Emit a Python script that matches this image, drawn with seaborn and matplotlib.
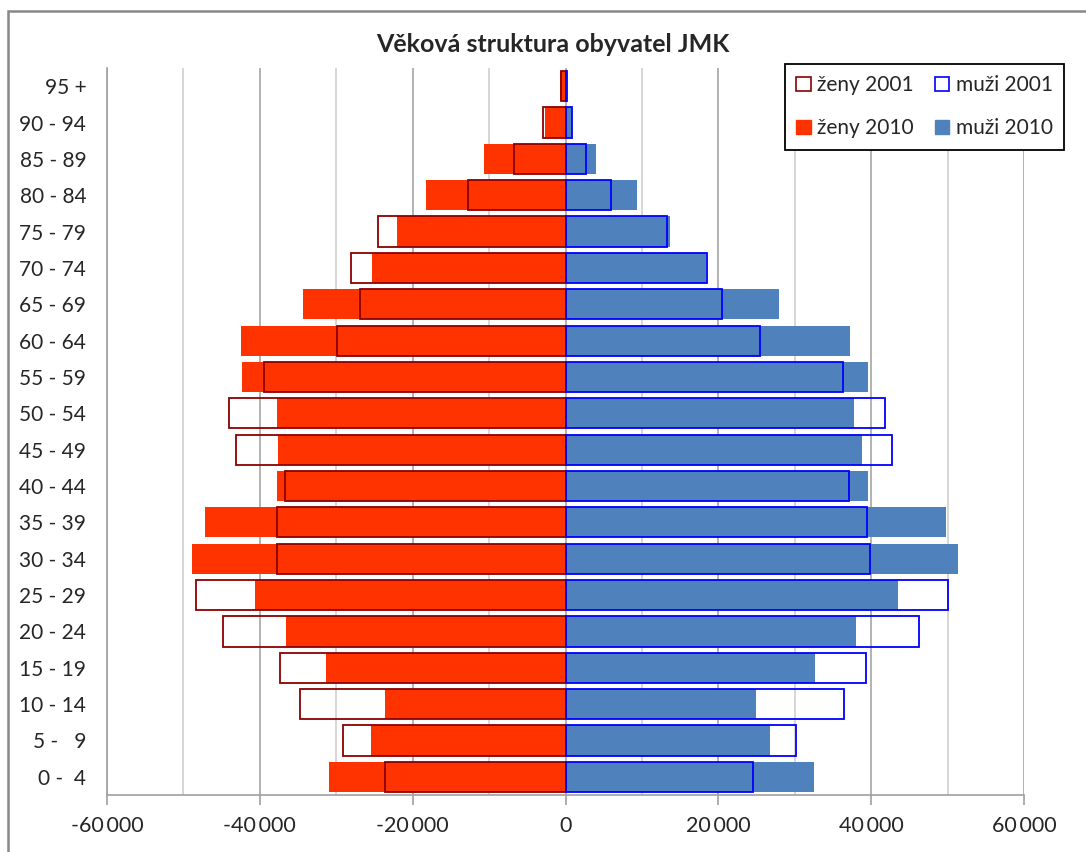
import numpy as np
import matplotlib
matplotlib.use("Agg")
import matplotlib.pyplot as plt
import matplotlib.patches as mpatches
import seaborn as sns

# age groups, top of the pyramid first
ages = ["95 +", "90 - 94", "85 - 89", "80 - 84", "75 - 79", "70 - 74",
        "65 - 69", "60 - 64", "55 - 59", "50 - 54", "45 - 49", "40 - 44",
        "35 - 39", "30 - 34", "25 - 29", "20 - 24", "15 - 19", "10 - 14",
        "5 -   9", "0 -  4"]

zeny_2001 = [550, 2900, 6800, 12800, 24500, 28100, 26900, 29900, 39400, 44100,
             43100, 36700, 37800, 37800, 48300, 44800, 37400, 34800, 29100, 23600]
zeny_2010 = [750, 2650, 10700, 18300, 22000, 25300, 34300, 42500, 42300, 37700,
             37600, 37800, 47200, 48900, 40600, 36600, 31400, 23600, 25500, 31000]
muzi_2001 = [200, 830, 2700, 6000, 13300, 18500, 20500, 25500, 36300, 41800,
             42700, 37100, 39400, 39900, 50000, 46300, 39300, 36400, 30200, 24600]
muzi_2010 = [250, 850, 4000, 9300, 13700, 18400, 27900, 37200, 39600, 37700,
             38800, 39600, 49800, 51400, 43500, 38000, 32700, 24900, 26700, 32500]

x_ticks = [-60000, -40000, -20000, 0, 20000, 40000, 60000]
legend_labels = ["ženy 2001", "ženy 2010", "muži 2001", "muži 2010"]

RED = "#FF3300"
BLUE = "#4F81BD"
DARK_RED = "#8B0000"
LINE_BLUE = "#0000FF"

sns.set_style("white")
plt.rcParams["font.family"] = ["Lato", "DejaVu Sans"]

fig = plt.figure(figsize=(10.86, 8.52), dpi=100)
ax = fig.add_axes([107 / 1086, 1 - 795 / 852, (1024 - 107) / 1086, (795 - 68) / 852])

bw = 0.83
sns.barplot(x=-np.array(zeny_2010), y=ages, orient="h", color=RED, width=bw,
            saturation=1, linewidth=0, errorbar=None, ax=ax)
sns.barplot(x=np.array(muzi_2010), y=ages, orient="h", color=BLUE, width=bw,
            saturation=1, linewidth=0, errorbar=None, ax=ax)
sns.barplot(x=-np.array(zeny_2001), y=ages, orient="h", color=DARK_RED, width=bw,
            saturation=1, fill=False, linewidth=1.3, errorbar=None, ax=ax)
sns.barplot(x=np.array(muzi_2001), y=ages, orient="h", color=LINE_BLUE, width=bw,
            saturation=1, fill=False, linewidth=1.3, errorbar=None, ax=ax)

ax.set_xlim(-60000, 60000)
ax.set_ylim(len(ages) - 0.5, -0.5)
ax.set_xticks(x_ticks)
ax.set_xticks(np.arange(-50000, 60001, 20000), minor=True)
ax.xaxis.set_major_formatter(
    plt.FuncFormatter(lambda v, p: f"{int(v):,}".replace(",", "\u2009")))
ax.set_axisbelow(True)
ax.grid(axis="x", which="major", color="#A6A6A6", linewidth=1.2)
ax.grid(axis="x", which="minor", color="#D0D0D0", linewidth=1.2)
ax.grid(axis="y", visible=False)
ax.set_xlabel("")
ax.set_ylabel("")

for side in ["top", "right"]:
    ax.spines[side].set_visible(False)
for side in ["left", "bottom"]:
    ax.spines[side].set_color("#A0A0A0")
    ax.spines[side].set_linewidth(1.2)

ax.tick_params(axis="x", which="major", length=7, width=1.2, color="#A0A0A0",
               labelsize=15.5, pad=8, bottom=True)
ax.tick_params(axis="x", which="minor", length=0)
ax.tick_params(axis="y", length=0, labelsize=15, pad=15)

fig.text(553 / 1086, 1 - 45 / 852, "Věková struktura obyvatel JMK",
         ha="center", va="center", fontsize=18, fontweight="bold")

handles = [
    mpatches.Patch(facecolor="white", edgecolor=DARK_RED, linewidth=1.2),
    mpatches.Patch(facecolor=RED, edgecolor=RED),
    mpatches.Patch(facecolor="white", edgecolor=LINE_BLUE, linewidth=1.2),
    mpatches.Patch(facecolor=BLUE, edgecolor=BLUE),
]
leg = fig.legend(handles, legend_labels, ncol=2, loc="upper right",
                 bbox_to_anchor=(1064 / 1086, 1 - 64 / 852), fontsize=15,
                 frameon=True, fancybox=False, framealpha=1, borderaxespad=0,
                 handlelength=0.7, handleheight=0.7, handletextpad=0.3,
                 labelspacing=1.1, columnspacing=1.0, borderpad=0.55)
leg.get_frame().set_edgecolor("black")
leg.get_frame().set_linewidth(1.3)

# outer chart border (runs off the right and bottom edge in the reference)
fig.patches.append(mpatches.Rectangle((8 / 1086, -0.1), 1.2, 1.1 - 11 / 852,
                                      transform=fig.transFigure, fill=False,
                                      edgecolor="#888888", linewidth=1.8))

fig.savefig("out.png", dpi=100)
